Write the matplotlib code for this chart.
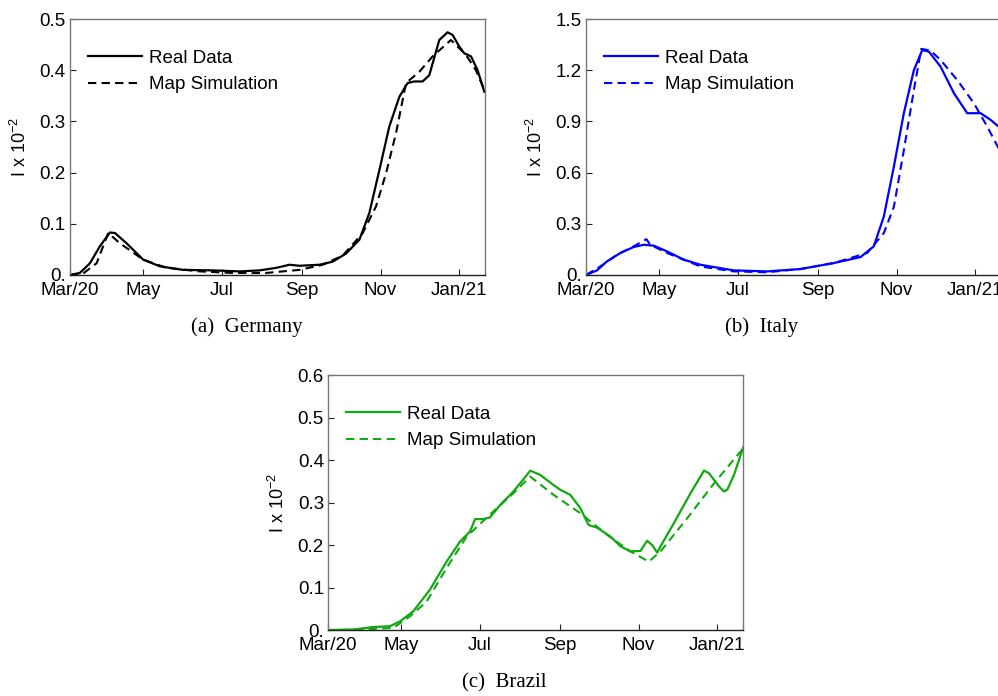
import matplotlib
matplotlib.use("Agg")
import matplotlib.pyplot as plt

plt.rcParams['font.family'] = ['Liberation Sans', 'DejaVu Sans']
plt.rcParams['mathtext.fontset'] = 'custom'
plt.rcParams['mathtext.rm'] = 'Liberation Sans'

# x axis is days counted from the left edge (Mar/20)
tick_days = [0, 57, 118, 180, 241, 302]
tick_names = ["Mar/20", "May", "Jul", "Sep", "Nov", "Jan/21"]

# ---------------- Germany ----------------
de_real_x = [0, 7.7, 15.5, 23.2, 31.0, 34.9, 43.9, 56.8, 69.7, 87.8, 111.0, 131.7, 147.2,
             160.1, 170.4, 178.1, 193.6, 203.9, 214.3, 224.6, 232.3, 240.1, 247.8, 255.6,
             262.0, 267.2, 273.6, 278.8, 286.6, 293.0, 296.9, 302.1, 306.0, 311.2, 316.3, 321.5]
de_real_y = [0, 0.004, 0.023, 0.056, 0.083, 0.082, 0.062, 0.030, 0.017, 0.010, 0.009, 0.007, 0.009,
             0.014, 0.020, 0.018, 0.020, 0.026, 0.042, 0.069, 0.121, 0.205, 0.290, 0.348,
             0.375, 0.378, 0.378, 0.390, 0.459, 0.474, 0.469, 0.446, 0.433, 0.427, 0.400, 0.358]
de_map_x = [0, 10.3, 20.7, 29.7, 38.7, 56.8, 74.9, 100.7, 126.5, 152.3, 178.1, 196.2, 211.7,
            227.2, 237.5, 245.3, 253.0, 260.8, 271.1, 281.4, 295.6, 307.3, 315.0, 321.5]
de_map_y = [0, 0.003, 0.023, 0.082, 0.062, 0.030, 0.014, 0.007, 0.004, 0.004, 0.010, 0.020, 0.038,
            0.082, 0.134, 0.199, 0.277, 0.375, 0.397, 0.427, 0.459, 0.430, 0.400, 0.362]

# ---------------- Italy ----------------
it_real_x = [0, 8.5, 16.3, 26.7, 37.0, 44.8, 52.5, 62.9, 75.8, 88.8, 114.6, 140.5, 166.4, 192.3,
             213.0, 223.3, 231.1, 238.9, 246.6, 254.4, 260.9, 266.0, 275.1, 285.5, 295.8, 306.2,
             313.9, 320.1, 322.5]
it_real_y = [0, 0.027, 0.080, 0.129, 0.164, 0.177, 0.172, 0.138, 0.090, 0.060, 0.027, 0.021, 0.035, 0.070,
             0.105, 0.168, 0.343, 0.636, 0.948, 1.200, 1.318, 1.309, 1.221, 1.065, 0.948, 0.948,
             0.909, 0.870, 0.850]
it_map_x = [0, 11.1, 24.1, 37.0, 46.8, 49.9, 62.9, 88.8, 114.6, 140.5, 166.4, 192.3, 218.2, 231.1,
            238.9, 246.6, 254.4, 260.1, 267.3, 275.1, 288.0, 301.0, 311.3, 320.1, 322.5]
it_map_y = [0, 0.050, 0.119, 0.168, 0.210, 0.177, 0.129, 0.050, 0.021, 0.016, 0.035, 0.070, 0.129, 0.246,
            0.400, 0.730, 1.084, 1.325, 1.315, 1.260, 1.143, 1.006, 0.870, 0.743, 0.725]

# ---------------- Brazil ----------------
br_real_x = [0, 19.4, 35.0, 48.0, 55.7, 66.1, 79.1, 92.0, 102.4, 110.2, 114.1, 120.6, 125.7, 133.5,
             143.9, 154.3, 156.9, 164.6, 175.0, 180.2, 188.0, 195.7, 202.2, 208.7, 219.1, 226.9,
             234.6, 242.4, 247.6, 251.5, 255.4, 258.0, 268.3, 281.3, 291.7, 295.6, 303.3, 307.2,
             309.8, 315.0, 322.3]
br_real_y = [0, 0.001, 0.007, 0.009, 0.020, 0.044, 0.095, 0.161, 0.208, 0.232, 0.261, 0.261, 0.265, 0.294,
             0.326, 0.365, 0.375, 0.365, 0.341, 0.330, 0.318, 0.287, 0.247, 0.241, 0.220, 0.197,
             0.185, 0.186, 0.210, 0.200, 0.182, 0.197, 0.251, 0.322, 0.375, 0.369, 0.338, 0.326,
             0.330, 0.365, 0.431]
br_map_x = [0, 24.6, 50.6, 63.5, 76.5, 92.0, 107.6, 128.3, 143.9, 156.9, 175.0, 195.7, 216.5, 234.6,
            248.9, 258.0, 278.7, 299.5, 322.3]
br_map_y = [0, 0.001, 0.005, 0.032, 0.067, 0.146, 0.220, 0.279, 0.322, 0.361, 0.318, 0.275, 0.224, 0.185,
            0.161, 0.185, 0.263, 0.345, 0.428]

panels = [
    # rect, color, real, map, yticks, caption, caption x
    ([0.0701, 0.6049, 0.4158, 0.3678], "black", (de_real_x, de_real_y), (de_map_x, de_map_y),
     [0, 0.1, 0.2, 0.3, 0.4, 0.5], "(a)  Germany", 0.247),
    ([0.5872, 0.6049, 0.4158, 0.3678], "#0000ff", (it_real_x, it_real_y), (it_map_x, it_map_y),
     [0, 0.3, 0.6, 0.9, 1.2, 1.5], "(b)  Italy", 0.763),
    ([0.3287, 0.0948, 0.4158, 0.3664], "#11a811", (br_real_x, br_real_y), (br_map_x, br_map_y),
     [0, 0.1, 0.2, 0.3, 0.4, 0.5, 0.6], "(c)  Brazil", 0.505),
]
cap_y = [0.530, 0.530, 0.019]

fig = plt.figure(figsize=(9.98, 6.96), dpi=100)

for k, (rect, col, real, sim, yt, cap, capx) in enumerate(panels):
    ax = fig.add_axes(rect)
    ax.plot(real[0], real[1], color=col, lw=1.6, label="Real Data")
    ax.plot(sim[0], sim[1], color=col, lw=1.5, ls=(0, (4, 2.5)), label="Map Simulation")
    ax.set_xlim(0, 322)
    ax.set_ylim(0, yt[-1])
    ax.set_xticks(tick_days)
    ax.set_xticklabels(tick_names)
    ax.set_yticks(yt)
    ax.set_yticklabels(["0."] + ["%.1f" % v for v in yt[1:]])
    ax.tick_params(direction="in", length=4, labelsize=13.5, colors="#222222",
                   labelcolor="black", top=False, right=False)
    ax.tick_params(axis="x", pad=5)
    ax.tick_params(axis="y", pad=3)
    for s in ax.spines.values():
        s.set_color("#777777")
        s.set_linewidth(1.0)
    ax.spines["bottom"].set_color("#222222")
    ax.set_ylabel(r"I x 10$^{-2}$", fontsize=13, labelpad=7)
    ax.legend(loc="upper left", frameon=False, fontsize=13.5, handlelength=2.9,
              handletextpad=0.35, labelspacing=0.5, borderpad=0, borderaxespad=0,
              bbox_to_anchor=(0.043, 0.88))
    fig.text(capx, cap_y[k], cap, ha="center", va="center", fontsize=15,
             family=["Liberation Serif", "DejaVu Serif"])

fig.savefig("out.png", dpi=100)
